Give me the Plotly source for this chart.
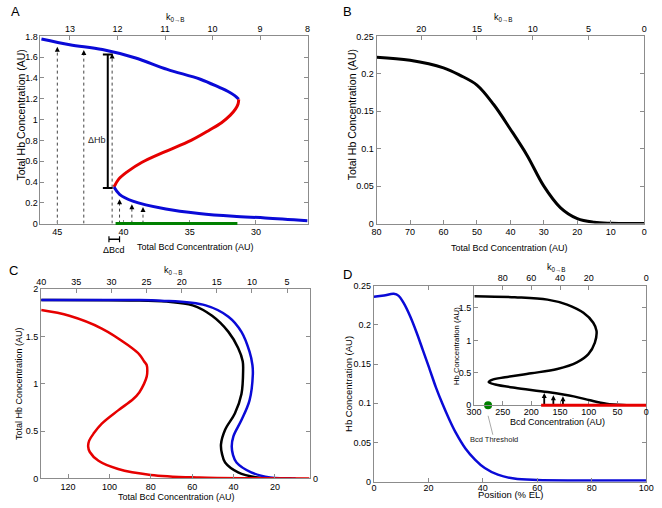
import plotly.graph_objects as go

W, H = 662, 508
FONT = "Liberation Sans, Arial, sans-serif"
BLUE = "rgb(10,10,215)"
RED = "rgb(230,0,0)"
GREEN = "rgb(0,128,0)"
AXC = "#8c8c8c"

# ---------------- Panel A data ----------------
a_up_bcd = [46.2, 44.06, 41.6, 39.15, 36.7, 34.2, 32.76, 32.1, 31.6, 31.3]
a_up_hb = [1.775, 1.72, 1.673, 1.594, 1.483, 1.388, 1.309, 1.27, 1.23, 1.195]
a_mid_bcd = [31.3, 31.35, 31.55, 31.95, 32.6, 33.5, 34.9, 36.9, 38.6, 39.7, 40.35, 40.72]
a_mid_hb = [1.195, 1.15, 1.10, 1.04, 0.97, 0.90, 0.80, 0.69, 0.59, 0.50, 0.43, 0.352]
a_low_bcd = [40.72, 40.3, 39.3, 36.8, 34.3, 31.7, 29.3, 26.1]
a_low_hb = [0.352, 0.282, 0.216, 0.14, 0.097, 0.07, 0.055, 0.028]
a_big_arrow_bcd = [45.0, 43.0, 40.86]
a_big_arrow_tip = [1.70, 1.67, 1.635]
a_small_arrow_bcd = [40.3, 39.37, 38.53]
a_small_arrow_tip = [0.235, 0.185, 0.16]
a_dhb_bcd = 41.19
a_dhb_range = [0.342, 1.625]
a_dbcd_range = [41.1, 40.3]
a_green_range = [40.6, 31.4]
a_top_ticks = [13, 12, 11, 10, 9, 8]
a_bottom_ticks = [45, 40, 35, 30]

# ---------------- Panel B data ----------------
b_bcd = [80, 70, 60, 55, 50, 45, 40, 35, 30, 25, 20, 15, 10, 5, 0]
b_hb = [0.222, 0.218, 0.208, 0.198, 0.185, 0.159, 0.126, 0.091, 0.050, 0.021,
        0.0066, 0.0018, 0.0005, 0.0002, 0.0]
b_top_ticks = [20, 15, 10, 5, 0]

# ---------------- Panel C data ----------------
c_black_bcd = [133, 90, 72.3, 59.8, 50.4, 42.5, 37.8, 35.6, 35.4, 36.2, 39.4, 44.1,
               46.1, 45.6, 44.1, 37.8, 28.4, 19, 12]
c_black_hb = [1.886, 1.882, 1.87, 1.83, 1.72, 1.55, 1.38, 1.24, 1.14, 0.894, 0.687,
              0.515, 0.36, 0.26, 0.169, 0.065, 0.01, 0.001, 0.0]
c_blue_bcd = [133, 90, 75, 53.5, 42.5, 36.2, 32.3, 30.9, 30.7, 32.3, 36.2, 40.1,
              40.9, 40.3, 38.6, 31.5, 22.4, 16.1, 10]
c_blue_hb = [1.886, 1.886, 1.88, 1.83, 1.71, 1.55, 1.34, 1.2, 1.10, 0.826, 0.618,
             0.446, 0.34, 0.25, 0.169, 0.065, 0.01, 0.001, 0.0]
c_red_bcd = [133, 119.4, 103.7, 91.1, 85.5, 83.3, 82.0, 81.7, 82.0, 83.3, 85.6, 88.5,
             95.8, 103.7, 107.5, 109.8, 110.3, 109.5, 105.3, 95.8, 80.1, 56.6, 30, 3.3]
c_red_hb = [1.78, 1.72, 1.585, 1.41, 1.31, 1.24, 1.20, 1.14, 1.077, 1.0, 0.91, 0.84,
            0.72, 0.58, 0.48, 0.40, 0.34, 0.28, 0.187, 0.10, 0.038, 0.01, 0.002, 0.0]
c_top_ticks = [40, 35, 30, 25, 20, 15, 10, 5]
c_bottom_ticks = [120, 100, 80, 60, 40, 20]

# ---------------- Panel D data ----------------
d_pos = [0, 3.7, 7.3, 9.1, 10.9, 13.3, 15.7, 18.0, 20.4, 22.8, 25.2, 27.6, 30.0,
         33.6, 37.2, 40.7, 45.5, 51.5, 60, 75, 100]
d_hb = [0.236, 0.2375, 0.2396, 0.237, 0.228, 0.211, 0.19, 0.1675, 0.144, 0.12,
        0.099, 0.08, 0.063, 0.0425, 0.028, 0.0175, 0.009, 0.004, 0.0022, 0.0016, 0.0015]

# inset
i_bcd = [299, 228.8, 171.9, 137.8, 109.3, 92.2, 86.5, 89.4, 100.7, 120.7, 154.8,
         200.3, 245.9, 268.6, 274.3, 262.9, 228.8, 171.9, 126.3, 97.8, 69.5, 41, 0]
i_hb = [1.68, 1.664, 1.628, 1.551, 1.424, 1.272, 1.145, 0.966, 0.788, 0.661, 0.559,
        0.493, 0.432, 0.391, 0.356, 0.32, 0.269, 0.203, 0.137, 0.076, 0.025, 0.005, 0.0]
i_red_range = [183, 0]
i_arrow_bcd = [177.6, 161.7, 145.0]
i_arrow_tip = [0.19, 0.155, 0.14]
i_threshold_bcd = 275.4
i_top_tickvals = [250, 200, 150, 100, 0]
i_top_ticktext = ["80", "60", "40", "20", "0"]


def px(x):
    return x / W


def py(y):
    return 1 - y / H


fig = go.Figure()


def line(x, y, xa, ya, color, width, **kw):
    fig.add_trace(go.Scatter(x=x, y=y, mode="lines", xaxis=xa, yaxis=ya, hoverinfo="skip",
                             line=dict(color=color, width=width, **kw)))


def heads(x, y, xa, ya, size=6, clip=True):
    fig.add_trace(go.Scatter(x=x, y=y, mode="markers", xaxis=xa, yaxis=ya, hoverinfo="skip",
                             cliponaxis=clip,
                             marker=dict(symbol="arrow-up", size=size, color="black", line=dict(width=0))))


def dummy(x, xa, ya):
    # invisible points so the secondary (top) axis is drawn
    fig.add_trace(go.Scatter(x=x, y=[0] * len(x), mode="markers", xaxis=xa, yaxis=ya,
                             hoverinfo="skip", marker=dict(opacity=0, size=1)))


# Panel A traces
line(a_up_bcd, a_up_hb, "x", "y", BLUE, 3, shape="spline")
line(a_mid_bcd, a_mid_hb, "x", "y", RED, 3, shape="spline")
line(a_low_bcd, a_low_hb, "x", "y", BLUE, 3, shape="spline")
dx, dy = [], []
for xv, tv in zip(a_big_arrow_bcd + a_small_arrow_bcd, a_big_arrow_tip + a_small_arrow_tip):
    dx += [xv, xv, None]
    dy += [0, tv - 0.03, None]
line(dx, dy, "x", "y", "#444", 1, dash="dot")
heads(a_big_arrow_bcd + a_small_arrow_bcd, a_big_arrow_tip + a_small_arrow_tip, "x", "y", size=5)
fig.add_trace(go.Scatter(x=[a_dhb_bcd, a_dhb_bcd], y=a_dhb_range, mode="lines+markers", hoverinfo="skip",
                         line=dict(color="black", width=2),
                         marker=dict(symbol="line-ew", size=7, line=dict(color="black", width=2)),
                         xaxis="x", yaxis="y"))
dummy(a_top_ticks, "x2", "y")

# Panel B
line(b_bcd, b_hb, "x3", "y3", "black", 3, shape="spline")
dummy(b_top_ticks, "x4", "y3")

# Panel C
line(c_black_bcd, c_black_hb, "x5", "y5", "black", 2.5, shape="spline")
line(c_blue_bcd, c_blue_hb, "x5", "y5", BLUE, 2.5, shape="spline")
line(c_red_bcd, c_red_hb, "x5", "y5", RED, 2.5, shape="spline")
dummy(c_top_ticks, "x6", "y5")

# Panel D
line(d_pos, d_hb, "x7", "y7", BLUE, 2.5, shape="spline")
line(i_bcd, i_hb, "x8", "y8", "black", 2.5, shape="spline")
ix, iy = [], []
for xv, tv in zip(i_arrow_bcd, i_arrow_tip):
    ix += [xv, xv, None]
    iy += [0, tv - 0.04, None]
line(ix, iy, "x8", "y8", "black", 1.8)
heads(i_arrow_bcd, i_arrow_tip, "x8", "y8", size=5)
fig.add_trace(go.Scatter(x=[i_threshold_bcd], y=[0], mode="markers", cliponaxis=False, hoverinfo="skip",
                         marker=dict(color=GREEN, size=8), xaxis="x8", yaxis="y8"))
heads([i_threshold_bcd], [-0.065], "x8", "y8", size=5, clip=False)
dummy(i_top_tickvals, "x9", "y8")

base = dict(showline=True, linecolor=AXC, linewidth=1, ticks="inside", ticklen=4, tickcolor=AXC,
            tickfont=dict(size=9, color="black", family=FONT), showgrid=False, zeroline=False)

ya_dom = [py(223), py(32)]
yc_dom = [py(483), py(290)]
yd_dom = [py(486.3), py(286.3)]
yi_dom = [py(408.3), py(286.5)]

fig.update_layout(
    xaxis=dict(base, domain=[px(33.3), px(307)], range=[46.27, 26.1], tickvals=a_bottom_ticks, anchor="y"),
    xaxis2=dict(base, overlaying="x", side="top", anchor="y", range=[13.62, 8.0], tickvals=a_top_ticks),
    yaxis=dict(base, domain=ya_dom, range=[0, 1.8], dtick=0.2, anchor="x", mirror="ticks"),
    xaxis3=dict(base, domain=[px(377.7), px(652)], range=[80, 0], dtick=10, anchor="y3"),
    xaxis4=dict(base, overlaying="x3", side="top", anchor="y3", range=[24, 0], tickvals=b_top_ticks),
    yaxis3=dict(base, domain=ya_dom, range=[0, 0.25], dtick=0.05, anchor="x3", mirror="ticks"),
    xaxis5=dict(base, domain=[px(34), px(309)], range=[133, 3.3], tickvals=c_bottom_ticks, anchor="y5"),
    xaxis6=dict(base, overlaying="x5", side="top", anchor="y5", range=[40, 1.8], tickvals=c_top_ticks),
    yaxis5=dict(base, domain=yc_dom, range=[0, 2], dtick=0.5, anchor="x5", mirror="ticks"),
    xaxis7=dict(base, domain=[px(375), px(654)], range=[0, 100], dtick=20, anchor="y7", mirror="ticks",
                ticklabelstandoff=-3),
    yaxis7=dict(base, domain=yd_dom, range=[0, 0.25], dtick=0.05, anchor="x7", mirror="ticks"),
    xaxis8=dict(base, domain=[px(477.5), px(654)], range=[300, 0], dtick=50, anchor="y8",
                ticklabelstandoff=-2),
    xaxis9=dict(base, overlaying="x8", side="top", anchor="y8", range=[300, 0],
                tickvals=i_top_tickvals, ticktext=i_top_ticktext),
    yaxis8=dict(base, domain=yi_dom, range=[0, 1.84], tickvals=[0, 0.5, 1, 1.5], anchor="x8", mirror="ticks"),
    width=W, height=H, margin=dict(l=0, r=0, t=0, b=0, pad=0), autosize=False,
    paper_bgcolor="white", plot_bgcolor="white", showlegend=False,
    font=dict(family=FONT, size=9, color="black"),
)

ann = []


def label(text, x, y, size=9, angle=0, xanchor="center", yanchor="middle"):
    ann.append(dict(text=text, x=px(x), y=py(y), xref="paper", yref="paper", showarrow=False,
                    font=dict(size=size, family=FONT, color="black"), textangle=angle,
                    xanchor=xanchor, yanchor=yanchor, borderpad=0))


label("A", 2, 7, size=13, xanchor="left")
label("B", 348, 7, size=13)
label("C", 6, 271, size=13)
label("D", 348, 275, size=13)
k = "k<sub>0\u2192B</sub>"
label(k, 172, 13)
label(k, 508, 13)
label(k, 170, 271)
label(k, 562, 268)
label("Total Bcd Concentration (AU)", 192, 247)
label("Total Bcd Concentration (AU)", 514, 248)
label("Total Bcd Concentration (AU)", 173, 508, yanchor="bottom")
label("Position (% EL)", 515, 506, size=9.5, yanchor="bottom")
label("Bcd Concentration (AU)", 563, 425)
label("Total Hb Concentration (AU)", 13, 112, size=10.5, angle=-90)
label("Total Hb Concentration (AU)", 352, 112, size=10.5, angle=-90)
label("Total Hb Concentration (AU)", 12, 386, size=9, angle=-90)
label("Hb Concentration (AU)", 349, 387, size=9.5, angle=-90)
label("Hb Concentration (AU)", 459, 348, size=7.7, angle=-90)
label("0", 315, 484)
ann.append(dict(text="\u0394Hb", x=41.97, y=0.80, xref="x", yref="y", showarrow=False,
                font=dict(size=9, family=FONT, color="#222")))
label("\u0394Bcd", 108.7, 250)
ann.append(dict(text="Bcd Threshold", x=i_threshold_bcd, xref="x8", y=py(419), yref="paper", showarrow=True,
                ax=6, ay=24, arrowhead=0, arrowwidth=1, arrowcolor="#aaa", standoff=0, borderpad=0,
                font=dict(size=7.5, family=FONT, color="#222")))
fig.update_layout(annotations=ann)

shapes = [
    dict(type="line", xref="x", yref="y domain", x0=a_green_range[0], x1=a_green_range[1], y0=0, y1=0,
         line=dict(color=GREEN, width=3)),
    dict(type="line", xref="x8", yref="y8 domain", x0=i_red_range[0], x1=i_red_range[1], y0=0, y1=0,
         line=dict(color=RED, width=3)),
    dict(type="line", xref="x", yref="paper", x0=a_dbcd_range[0], x1=a_dbcd_range[1], y0=py(239), y1=py(239),
         line=dict(color="black", width=1.5)),
    dict(type="line", xref="x", yref="paper", x0=a_dbcd_range[0], x1=a_dbcd_range[0], y0=py(236), y1=py(242),
         line=dict(color="black", width=1.2)),
    dict(type="line", xref="x", yref="paper", x0=a_dbcd_range[1], x1=a_dbcd_range[1], y0=py(236), y1=py(242),
         line=dict(color="black", width=1.2)),
]
fig.update_layout(shapes=shapes)

fig.write_html("out.html", config={"displayModeBar": False, "staticPlot": True},
               post_script="document.body.style.margin='0px';document.body.style.overflow='hidden';")
